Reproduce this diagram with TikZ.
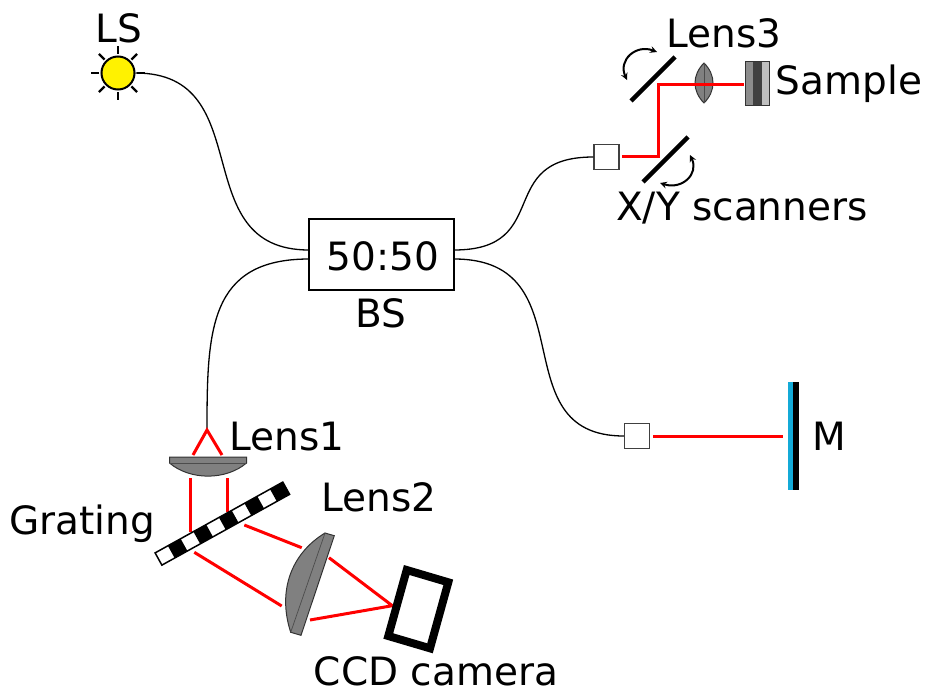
\documentclass[tikz,border=0pt]{standalone}
\usepackage{fontspec}
\setmainfont{DejaVu Sans}
\definecolor{mirrorblue}{RGB}{20,170,215}
\tikzstyle{label}=[inner sep=0pt,font=\fontsize{39}{39}\selectfont]
\tikzstyle{fiber}=[black,line width=1.3pt]
\tikzstyle{beam}=[red,line width=3pt]
\tikzstyle{collimator}=[draw=black!75,fill=white,line width=1.3pt,minimum size=25pt,inner sep=0pt]
\tikzstyle{lens}=[draw=black!80,fill=black!50,line width=1pt]
\tikzstyle{scanner}=[black,line width=4.5pt]
\tikzstyle{turn}=[black,line width=2pt,stealth-stealth]
\tikzstyle{sunray}=[black,line width=2.4pt]

\begin{document}
\begin{tikzpicture}[x=1pt,y=-1pt]
    \useasboundingbox (0,0) rectangle (926,693);
    % source
    \node[circle,draw=black,fill=yellow,line width=2pt,minimum size=33pt,inner sep=0pt] (sun) at (118,73) {};
    \foreach \a in {0,45,...,315}
    \draw[sunray] (sun) ++(\a:19) -- ++(\a:8);

    % splitter and fibers
    \node[draw=black,fill=white,line width=1.3pt,minimum width=145pt,minimum height=71pt,inner sep=0pt] (bs) at (381.5,254.5) {};
    \node[label] (ratio) at (383,256) {50:50};
    \node[collimator] (collsample) at (606.5,157) {};
    \node[collimator] (collmirror) at (637,436) {};
    \coordinate (bswa) at (309,250);
    \coordinate (bswb) at (309,259);
    \coordinate (bsea) at (454,250);
    \coordinate (bseb) at (454,259);
    \coordinate (fibertip) at (207,430);

    \draw[fiber] (sun.east) .. controls +(125,0) and +(-125,0) .. (bswa);
    \draw[fiber] (bswb) .. controls +(-100,0) and +(0,-100) .. (fibertip);
    \draw[fiber] (bsea) .. controls +(100,0) and +(-100,0) .. (collsample.west);
    \draw[fiber] (bseb) .. controls +(135,0) and +(-125,0) .. (collmirror.west);

    % sample arm
    \draw[lens] (704,63) .. controls (716,75) and (716,91) .. (704,103) .. controls (692,91) and (692,75) .. (704,63) -- cycle;
    \draw[black!70,line width=.7pt] (704,63) -- (704,103);
    \fill[black!45] (745,62) rectangle (753,105);
    \fill[black!75] (753,62) rectangle (762,105);
    \fill[black!25] (762,62) rectangle (769,105);
    \draw[black!80,line width=1pt] (745,62) rectangle (769,105);
    \coordinate (beamturna) at (658,156);
    \coordinate (beamturnb) at (658,84);
    \coordinate (samplein) at (744,84);
    \coordinate (collout) at (622,156);
    \draw[beam] (collout) -- (beamturna) -- (beamturnb) -- (samplein);
    \draw[scanner] (675,57) -- (631,101);
    \draw[scanner] (688,137) -- (643,182);
    \draw[turn] (627,80) .. controls (618,60) and (636,44) .. (657,52);
    \draw[turn] (690,155) .. controls (699,174) and (682,190) .. (660,183);

    % reference arm
    \fill[mirrorblue] (788,382) rectangle (793,490);
    \fill[black] (793,382) rectangle (799,490);
    \coordinate (mirrorin) at (783,436);
    \draw[beam] ([xshift=3pt]collmirror.east) -- (mirrorin);

    % spectrometer
    \draw[lens] (169.5,457) -- (246.5,457) -- (246.5,463) .. controls (226,480.5) and (190,480.5) .. (169.5,463) -- cycle;
    \draw[black!70,line width=.7pt] (169.5,463) -- (246.5,463);
    \draw[beam] (193,455) -- (fibertip) -- (222,455);
    \draw[beam] (190,478) -- (190,532);
    \draw[beam] (227,478) -- (227,512);

    \begin{scope}[shift={(158.5,559)},rotate=29]
        \foreach \i in {0,2,...,8}
        \fill[white] (\i*14.6,-7) rectangle ++(14.6,14);
        \foreach \i in {1,3,...,9}
        \fill[black] (\i*14.6,-7) rectangle ++(14.6,14);
        \draw[black,line width=1.5pt] (0,-7) rectangle (146,7);
    \end{scope}

    \draw[lens] (325,533) -- (334.3,535.7) -- (301,635.3) -- (290.7,632.3) .. controls (277,590) and (292,553) .. (325,533) -- cycle;
    \draw[black!70,line width=.7pt] (325,533) -- (290.7,632.3);
    \draw[beam] (244.3,525) -- (301.7,547.7);
    \draw[beam] (194.3,552.3) -- (281.7,606);
    \draw[beam] (329,557.7) -- (392.3,605.7) -- (310,620);
    \draw[black,line width=8pt,line join=miter] (406.7,570) -- (448.3,582.3) -- (430,648.3) -- (388.3,636) -- cycle;

    % labels
    \node[label] (lslabel) at (119,28) {LS};
    \node[label] (bslabel) at (381,313) {BS};
    \node[label] (lens3label) at (724,33) {Lens3};
    \node[label] (samplelabel) at (849,84) {Sample};
    \node[label] (scannerlabel) at (742,208) {X/Y scanners};
    \node[label] (mlabel) at (829,436) {M};
    \node[label] (lens1label) at (287,437) {Lens1};
    \node[label] (lens2label) at (379,497) {Lens2};
    \node[label] (gratinglabel) at (82,524) {Grating};
    \node[label] (ccdlabel) at (436,671) {CCD camera};
\end{tikzpicture}
\end{document}
